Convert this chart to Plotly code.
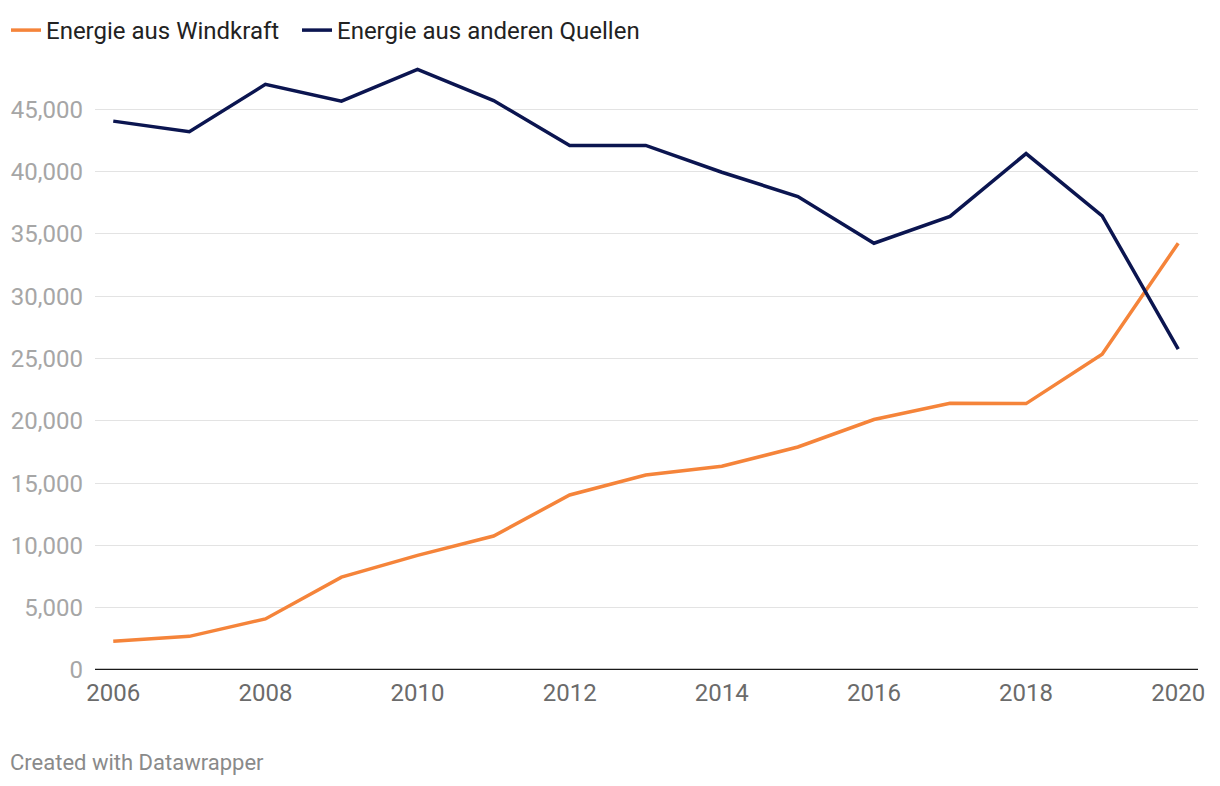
import plotly.graph_objects as go

years = list(range(2006, 2021))
wind = [2300, 2700, 4100, 7450, 9200, 10750, 14050, 15650, 16350, 17900, 20100, 21400, 21380, 25350, 34250]
other = [44050, 43200, 47000, 45650, 48200, 45700, 42100, 42100, 39950, 38000, 34250, 36400, 41450, 36450, 25750]
y_ticks = [0, 5000, 10000, 15000, 20000, 25000, 30000, 35000, 40000, 45000]
x_ticks = [2006, 2008, 2010, 2012, 2014, 2016, 2018, 2020]

W, H = 1212, 778
L, R, T, B = 87, 22, 39, 116
pw, ph = W - L - R, H - T - B

fig = go.Figure()
fig.add_trace(go.Scatter(x=years, y=wind, mode="lines", name="Energie aus Windkraft",
                         legendwidth=246,
                         line=dict(color="#f5843a", width=3.5)))
fig.add_trace(go.Scatter(x=years, y=other, mode="lines", name="Energie aus anderen Quellen",
                         line=dict(color="#0b1550", width=3.5)))

fig.update_layout(
    width=W, height=H,
    paper_bgcolor="white", plot_bgcolor="white",
    margin=dict(l=L, r=R, t=T, b=B, autoexpand=False),
    font=dict(family="Roboto", size=24, color="#222"),
    showlegend=True,
    legend=dict(orientation="h", x=(-2 - L) / pw, xref="paper", y=(ph + T) / ph, yref="paper",
                yanchor="top", xanchor="left", font=dict(size=24, color="#222"),
                bgcolor="rgba(0,0,0,0)"),
    xaxis=dict(range=[2005.76, 2020.26], tickvals=x_ticks, ticktext=[str(v) for v in x_ticks],
               showgrid=False, zeroline=False, showline=False, ticks="", automargin=False,
               ticklabelstandoff=6,
               tickfont=dict(size=24, color="#6b6b6b")),
    yaxis=dict(range=[0, 50000], tickvals=y_ticks,
               ticktext=[f"{v:,}" for v in y_ticks], showgrid=True, gridcolor="#e3e3e3",
               gridwidth=1, zeroline=False, showline=False, ticks="", automargin=False,
               ticklabelstandoff=11,
               tickfont=dict(size=24, color="#a6a6a6")),
    annotations=[dict(text="Created with Datawrapper", xref="paper", yref="paper",
                      x=(0 - L) / pw, y=(ph + T - 755) / ph, xanchor="left", yanchor="middle",
                      showarrow=False, font=dict(size=22, color="#8a8a8a"))],
    shapes=[dict(type="line", xref="paper", yref="y", x0=0, x1=1, y0=0, y1=0,
                 line=dict(color="#1a1a1a", width=2.5))],
)

fig.write_html("out.html")
